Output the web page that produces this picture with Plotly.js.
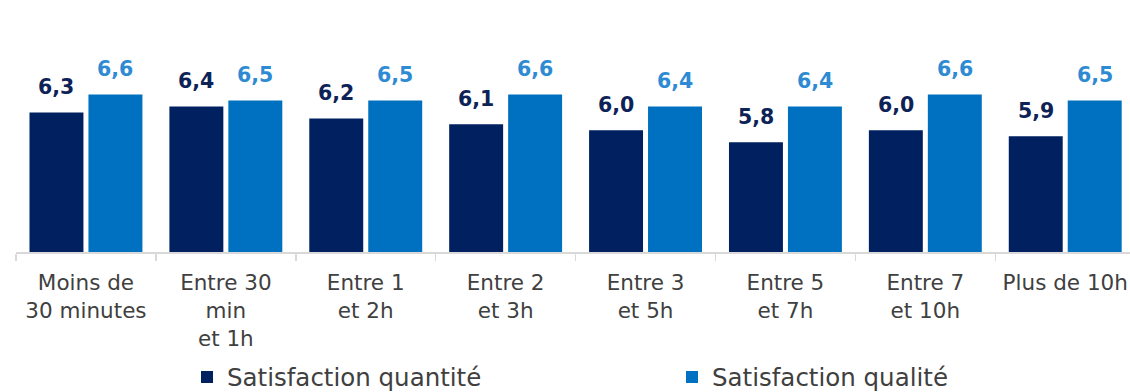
<!DOCTYPE html>
<html>
<head>
<meta charset="utf-8">
<script src="https://cdn.plot.ly/plotly-3.0.1.min.js"></script>
<style>html,body{margin:0;padding:0;background:#fff;}#chart{width:1130px;height:392px;}</style>
</head>
<body>
<div id="chart"></div>
<script>
// Data
var categories = [
  "Moins de<br>30 minutes",
  "Entre 30<br>min<br>et 1h",
  "Entre 1<br>et 2h",
  "Entre 2<br>et 3h",
  "Entre 3<br>et 5h",
  "Entre 5<br>et 7h",
  "Entre 7<br>et 10h",
  "Plus de 10h"
];
var quantite = [6.3, 6.4, 6.2, 6.1, 6.0, 5.8, 6.0, 5.9];
var qualite  = [6.6, 6.5, 6.5, 6.6, 6.4, 6.4, 6.6, 6.5];
var seriesNames = ["Satisfaction quantité", "Satisfaction qualité"];

var darkColor = "#002060";
var lightColor = "#0070C0";
var darkLabel = "#0D2357";
var lightLabel = "#2E8BD3";

var W = 1130, H = 392;
var margin = {l: 16, r: 0, t: 36, b: 140, autoexpand: false};
var xRange = [-0.5, 7.463];
var yRange = [3.965, 7.578];
var bargap = 0.157, bargroupgap = 0.085;

var plotW = W - margin.l - margin.r;
var catPx = plotW / (xRange[1] - xRange[0]);
var barShift = catPx * (1 - bargap) / 4;

function fmt(v) { return v.toFixed(1).replace('.', ','); }

var traces = [
  {type: 'bar', name: seriesNames[0], x: categories, y: quantite, legend: 'legend',
   marker: {color: darkColor}, hoverinfo: 'none'},
  {type: 'bar', name: seriesNames[1], x: categories, y: qualite, legend: 'legend2',
   marker: {color: lightColor}, hoverinfo: 'none'}
];

var annotations = [];
quantite.forEach(function(v, i) {
  annotations.push({x: i, y: v, xref: 'x', yref: 'y', text: fmt(v), showarrow: false,
    xshift: -barShift, yshift: 11, yanchor: 'bottom',
    font: {family: 'DejaVu Sans', size: 20.5, color: darkLabel, weight: 'bold'}});
});
qualite.forEach(function(v, i) {
  annotations.push({x: i, y: v, xref: 'x', yref: 'y', text: fmt(v), showarrow: false,
    xshift: barShift, yshift: 11, yanchor: 'bottom',
    font: {family: 'DejaVu Sans', size: 20.5, color: lightLabel, weight: 'bold'}});
});

var legendFont = {family: 'DejaVu Sans', size: 24.5, color: '#404040'};
var legendY = 1 - 377 / H;
var layout = {
  width: W, height: H,
  margin: margin,
  paper_bgcolor: '#ffffff', plot_bgcolor: '#ffffff',
  barmode: 'group', bargap: bargap, bargroupgap: bargroupgap,
  showlegend: true,
  legend: {orientation: 'h', xref: 'container', yref: 'container', x: 187 / W, xanchor: 'left',
    y: legendY, yanchor: 'middle', font: legendFont, bgcolor: 'rgba(0,0,0,0)'},
  legend2: {orientation: 'h', xref: 'container', yref: 'container', x: 672 / W, xanchor: 'left',
    y: legendY, yanchor: 'middle', font: legendFont, bgcolor: 'rgba(0,0,0,0)'},
  xaxis: {type: 'category', range: xRange, automargin: false, showline: true, linecolor: '#d9d9d9', linewidth: 1.5,
    ticks: 'outside', ticklen: 7, tickcolor: '#d9d9d9', tickwidth: 1.5, tickson: 'boundaries',
    ticklabelstandoff: 11,
    showgrid: false, zeroline: false, fixedrange: true,
    tickfont: {family: 'DejaVu Sans', size: 21.5, color: '#404040'}},
  yaxis: {range: yRange, automargin: false, showticklabels: false, showgrid: false, zeroline: false,
    showline: false, ticks: '', fixedrange: true},
  annotations: annotations
};

Plotly.newPlot('chart', traces, layout, {displayModeBar: false, staticPlot: true});
</script>
</body>
</html>
